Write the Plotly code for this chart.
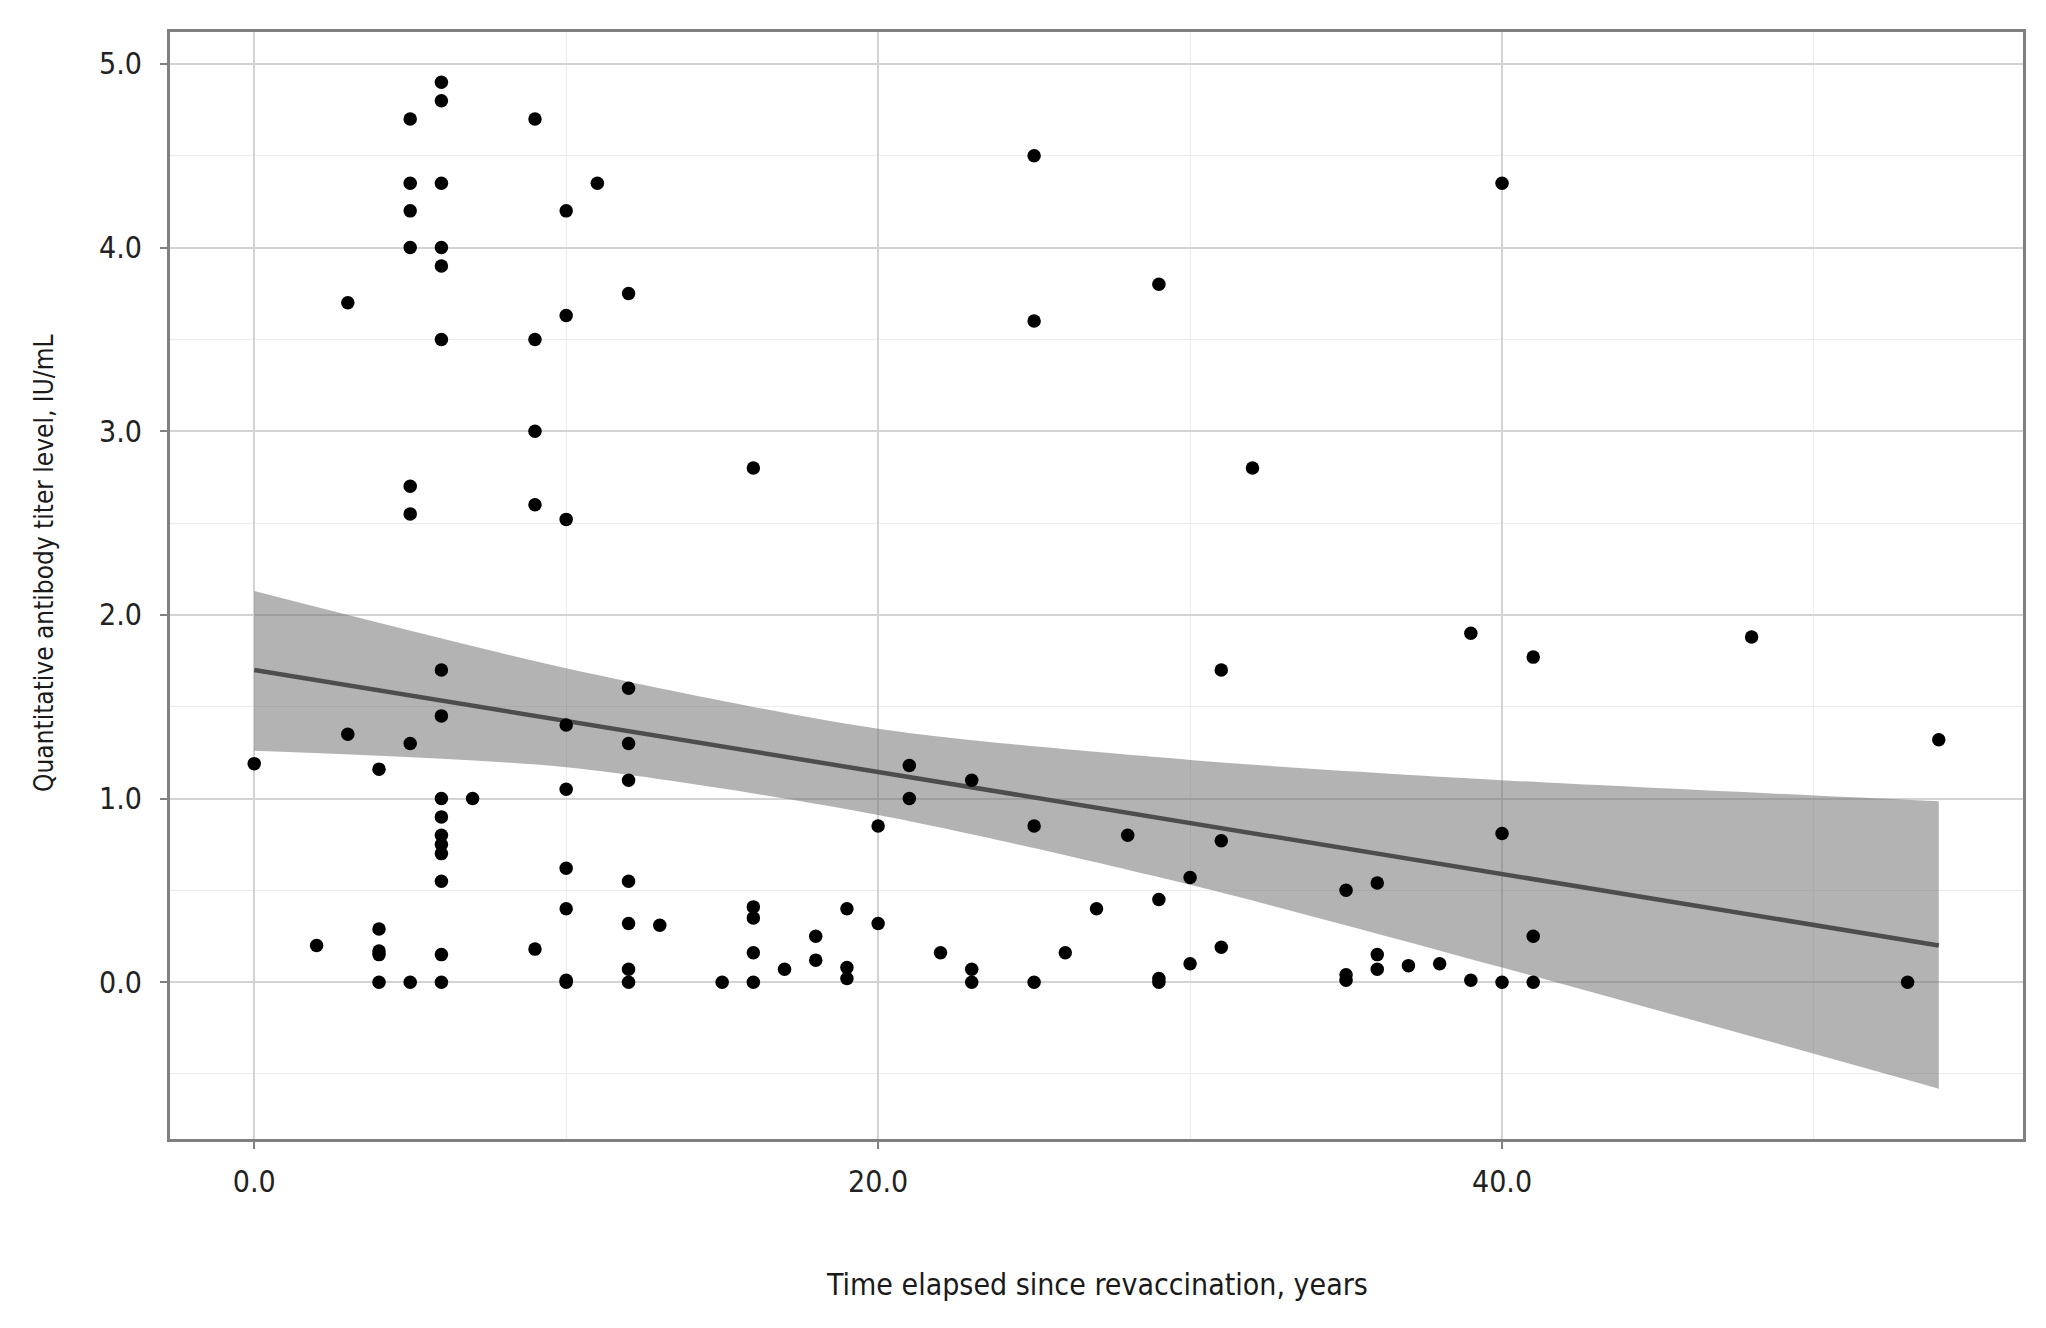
import plotly.graph_objects as go

# Data
years = [0, 2, 3, 3,
         4, 4, 4, 4, 4,
         5, 5, 5, 5, 5, 5, 5, 5,
         6, 6, 6, 6, 6, 6, 6, 6, 6, 6, 6, 6, 6, 6, 6, 6,
         7,
         9, 9, 9, 9, 9,
         10, 10, 10, 10, 10, 10, 10, 10, 10,
         11,
         12, 12, 12, 12, 12, 12, 12, 12,
         13, 15,
         16, 16, 16, 16, 16,
         17, 18, 18, 19, 19, 19,
         20, 20, 21, 21, 22, 23, 23, 23,
         25, 25, 25, 25, 26, 27, 28,
         29, 29, 29, 29, 30, 30, 31, 31, 31, 32,
         35, 35, 35, 36, 36, 36, 37, 38, 39, 39,
         40, 40, 40, 41, 41, 41, 48, 53, 54]
titer = [1.19, 0.20, 3.70, 1.35,
         1.16, 0.29, 0.17, 0.15, 0.00,
         4.70, 4.35, 4.20, 4.00, 2.70, 2.55, 1.30, 0.00,
         4.90, 4.80, 4.35, 4.00, 3.90, 3.50, 1.70, 1.45, 1.00, 0.90, 0.80, 0.75, 0.70, 0.55, 0.15, 0.00,
         1.00,
         4.70, 3.50, 3.00, 2.60, 0.18,
         4.20, 3.63, 2.52, 1.40, 1.05, 0.62, 0.40, 0.01, 0.00,
         4.35,
         3.75, 1.60, 1.30, 1.10, 0.55, 0.32, 0.07, 0.00,
         0.31, 0.00,
         2.80, 0.41, 0.35, 0.16, 0.00,
         0.07, 0.25, 0.12, 0.40, 0.08, 0.02,
         0.85, 0.32, 1.18, 1.00, 0.16, 1.10, 0.07, 0.00,
         4.50, 3.60, 0.85, 0.00, 0.16, 0.40, 0.80,
         3.80, 0.45, 0.02, 0.00, 0.57, 0.10, 1.70, 0.77, 0.19, 2.80,
         0.50, 0.04, 0.01, 0.54, 0.15, 0.07, 0.09, 0.10, 1.90, 0.01,
         4.35, 0.81, 0.00, 1.77, 0.25, 0.00, 1.88, 0.00, 1.32]

# Linear trend and its 95% confidence band
fit_x = [0, 54]
fit_y = [1.70, 0.20]
band_x = [0, 10, 20, 30, 40, 54]
band_hi = [2.13, 1.71, 1.38, 1.21, 1.10, 0.985]
band_lo = [1.26, 1.17, 0.91, 0.53, 0.08, -0.58]

x_ticks = [0, 20, 40]
x_tick_labels = ["0.0", "20.0", "40.0"]
y_ticks = [0, 1, 2, 3, 4, 5]
y_tick_labels = ["0.0", "1.0", "2.0", "3.0", "4.0", "5.0"]

FONT = "DejaVu Sans Condensed, Liberation Sans Narrow, DejaVu Sans, sans-serif"

fig = go.Figure()
fig.add_trace(go.Scatter(
    x=band_x, y=band_lo, mode="lines",
    line=dict(width=0, shape="spline", smoothing=0.8, color="rgba(0,0,0,0)"),
    hoverinfo="skip", showlegend=False))
fig.add_trace(go.Scatter(
    x=band_x, y=band_hi, mode="lines", fill="tonexty",
    fillcolor="rgba(110,110,110,0.52)",
    line=dict(width=0, shape="spline", smoothing=0.8, color="rgba(0,0,0,0)"),
    hoverinfo="skip", showlegend=False))
fig.add_trace(go.Scatter(x=fit_x, y=fit_y, mode="lines",
                         line=dict(color="#4d4d4d", width=4.5), showlegend=False))
fig.add_trace(go.Scatter(x=years, y=titer, mode="markers",
                         marker=dict(color="black", size=13.5), showlegend=False))

axis_common = dict(
    showline=True, linecolor="#808080", linewidth=3, mirror=True,
    ticks="outside", ticklen=7, tickwidth=2, tickcolor="#808080",
    gridcolor="#d3d3d3", gridwidth=2, zeroline=False,
    tickfont=dict(family=FONT, size=30, color="#222222"),
)
fig.update_xaxes(range=[-2.7, 56.7], tickvals=x_ticks, ticktext=x_tick_labels,
                 minor=dict(showgrid=True, dtick=10, gridcolor="#ececec", gridwidth=1),
                 ticklabelstandoff=7, **axis_common)
fig.update_yaxes(range=[-0.854, 5.174], tickvals=y_ticks, ticktext=y_tick_labels,
                 minor=dict(showgrid=True, dtick=0.5, gridcolor="#ececec", gridwidth=1),
                 ticklabelstandoff=12, **axis_common)

fig.update_layout(
    width=2046, height=1328,
    margin=dict(l=162, r=31, t=24, b=197),
    plot_bgcolor="white", paper_bgcolor="white",
    annotations=[
        dict(text="Time elapsed since revaccination, years", xref="paper", yref="paper",
             x=0.5, y=-0.131, xanchor="center", yanchor="middle", showarrow=False,
             font=dict(family=FONT, size=30, color="#1a1a1a")),
        dict(text="Quantitative antibody titer level, IU/mL", xref="paper", yref="paper",
             x=-0.0677, y=0.520, xanchor="center", yanchor="middle", showarrow=False,
             textangle=-90, font=dict(family=FONT, size=26, color="#1a1a1a")),
    ],
)

fig.write_html("out.html")
